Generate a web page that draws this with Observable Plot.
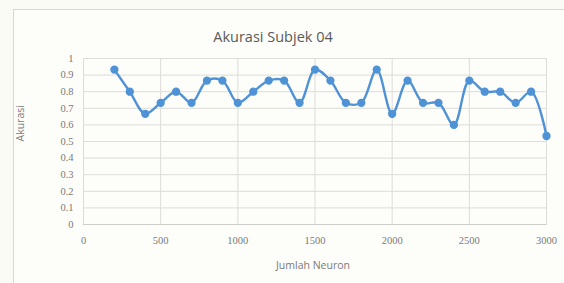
<!DOCTYPE html>
<html>
<head>
<meta charset="utf-8">
<script src="https://cdn.jsdelivr.net/npm/d3@7"></script>
<script src="https://cdn.jsdelivr.net/npm/@observablehq/plot@0.6"></script>
<style>
  html, body { margin: 0; padding: 0; background: #fbfbf6; }
  #wrap { position: relative; width: 564px; height: 283px; overflow: hidden; background: #fbfbf6; }
  #box { position: absolute; left: 13px; top: 9px; width: 600px; height: 300px; border: 1px solid #d6d6d2; background: #fdfdf9; }
  #chart { position: absolute; left: 0; top: 0; }
</style>
</head>
<body>
<div id="wrap"><div id="box"></div><div id="chart"></div></div>
<script>
const neurons = [200,300,400,500,600,700,800,900,1000,1100,1200,1300,1400,1500,1600,1700,1800,1900,2000,2100,2200,2300,2400,2500,2600,2700,2800,2900,3000];
const akurasi = [0.933,0.8,0.667,0.733,0.8,0.733,0.867,0.867,0.733,0.8,0.867,0.867,0.733,0.933,0.867,0.733,0.733,0.933,0.667,0.867,0.733,0.733,0.6,0.867,0.8,0.8,0.733,0.8,0.533];
const xTicks = [0,500,1000,1500,2000,2500,3000];
const yTicks = [0,0.1,0.2,0.3,0.4,0.5,0.6,0.7,0.8,0.9,1];
const title = "Akurasi Subjek 04";
const xLabel = "Jumlah Neuron";
const yLabel = "Akurasi";

const data = neurons.map((n, i) => ({n, a: akurasi[i]}));
const blue = "#4f93d6";
const grid = "#dcdcd8";
const textGray = "#7a7a7a";
const tickFont = "Liberation Serif";

const plot = Plot.plot({
  width: 564,
  height: 283,
  marginLeft: 83,
  marginRight: 18,
  marginTop: 58,
  marginBottom: 59,
  style: {background: "transparent", fontSize: "10px", color: textGray},
  x: {domain: [0, 3000], label: null},
  y: {domain: [0, 1], label: null},
  marks: [
    Plot.gridY(yTicks, {stroke: grid, strokeOpacity: 1}),
    Plot.gridX(xTicks, {stroke: grid, strokeOpacity: 1}),
    Plot.frame({stroke: grid}),
    Plot.ruleY([0], {stroke: "#cfcfcb"}),
    Plot.axisX(xTicks, {tickSize: 0, tickPadding: 12, tickFormat: d => String(d), fontFamily: tickFont, fontSize: 10.5, fill: textGray, label: null}),
    Plot.axisY(yTicks, {tickSize: 0, tickPadding: 10, tickFormat: d => String(d), fontFamily: tickFont, fontSize: 10.5, fill: textGray, label: null}),
    Plot.line(data, {x: "n", y: "a", stroke: blue, strokeWidth: 2.4, curve: "catmull-rom"}),
    Plot.dot(data, {x: "n", y: "a", r: 3.4, fill: blue, stroke: blue}),
    Plot.text([title], {frameAnchor: "top", dx: -42, dy: -27, text: d => d, fontSize: 14.5, fill: "#5a5a5a", fontFamily: "Open Sans"}),
    Plot.text([xLabel], {frameAnchor: "bottom", dx: -2, dy: 44, text: d => d, fontSize: 10.5, fill: textGray, fontFamily: "Open Sans"}),
    Plot.text([yLabel], {frameAnchor: "left", dx: -63, dy: 0, rotate: -90, text: d => d, fontSize: 10.5, fill: textGray, fontFamily: "Open Sans"})
  ]
});
document.getElementById("chart").appendChild(plot);
</script>
</body>
</html>
